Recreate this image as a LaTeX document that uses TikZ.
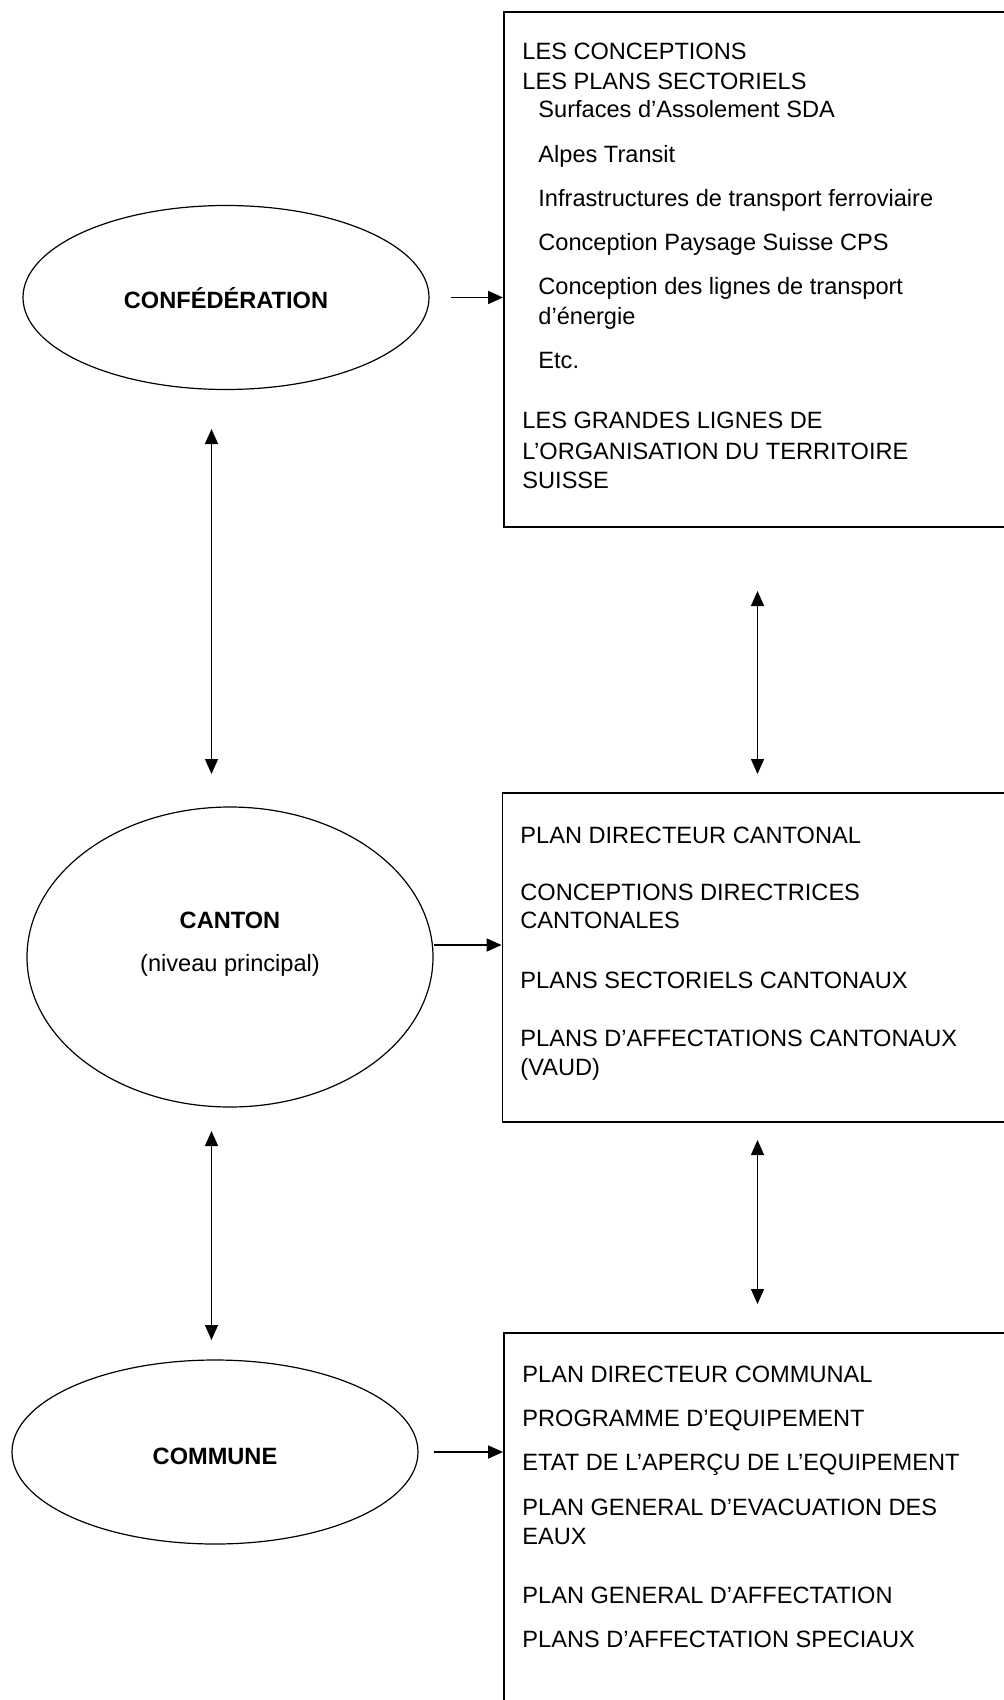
\documentclass[tikz,border=0pt]{standalone}
\usepackage{fontspec}
\setmainfont{Liberation Sans}
\usetikzlibrary{shapes.geometric, arrows.meta}

\begin{document}
\begin{tikzpicture}[%
        x = 0.5pt, y = -0.5pt,
        level/.style = {%
            draw, ellipse, line width = 0.6pt,
            inner sep = 0pt, minimum width = 203pt
        },
        frame/.style = {%
            draw, line width = 0.9pt, anchor = north west,
            inner sep = 0pt, minimum width = 270pt
        },
        entry/.style = {anchor = base west, inner sep = 0pt, font = \fontsize{11.8}{14}\selectfont},
        title/.style = {inner sep = 0pt, font = \bfseries\fontsize{11.8}{14}\selectfont},
        flow/.style = {-{Triangle[length = 7.5pt, width = 6.5pt]}, line width = 0.9pt},
        link/.style = {%
            {Triangle[length = 7.5pt, width = 6.5pt]}-{Triangle[length = 7.5pt, width = 6.5pt]},
            line width = 0.7pt
        }
    ]

        % Page size, the boxes run off the right and bottom edges.
        \useasboundingbox (0, 0) rectangle (1004, 1700);
        \clip (0, 0) rectangle (1004, 1700);

        % The three levels.
        \node[level, minimum height = 92pt] (conf) at (226, 297.5) {};
        \node[title] (conftitle) at (226, 298) {CONFÉDÉRATION};

        \node[level, minimum height = 150pt] (canton) at (230, 957) {};
        \node[title] (cantontitle) at (230, 920) {CANTON};
        \node[entry, anchor = center] (cantonsub) at (230, 965) {(niveau principal)};

        \node[level, minimum height = 92pt] (commune) at (215, 1452) {};
        \node[title] (communetitle) at (215, 1456) {COMMUNE};

        % The boxes with the instruments of each level.
        \node[frame, minimum height = 257.5pt] (fedbox) at (503, 11) {};
        \node[frame, minimum height = 164.5pt] (cantonbox) at (501.5, 792.3) {};
        \node[frame, minimum height = 220pt] (communebox) at (503, 1332) {};

        % Federal instruments, one line each (y / x / text).
        \foreach \y/\x/\t [count = \i] in {%
            60/522/LES CONCEPTIONS,
            90/522/LES PLANS SECTORIELS,
            118/538/Surfaces d’Assolement SDA,
            163/538/Alpes Transit,
            207/538/Infrastructures de transport ferroviaire,
            251/538/Conception Paysage Suisse CPS,
            295/538/Conception des lignes de transport,
            325/538/d’énergie,
            369/538/Etc.,
            429/522/LES GRANDES LIGNES DE,
            459/522/L’ORGANISATION DU TERRITOIRE,
            488/522/SUISSE}{%
            \node[entry] (fed\i) at (\x, \y) {\t};
        }

        % Cantonal instruments.
        \foreach \y/\t [count = \i] in {%
            843/PLAN DIRECTEUR CANTONAL,
            900/CONCEPTIONS DIRECTRICES,
            928/CANTONALES,
            988/PLANS SECTORIELS CANTONAUX,
            1046/PLANS D’AFFECTATIONS CANTONAUX,
            1075/(VAUD)}{%
            \node[entry] (cant\i) at (520, \y) {\t};
        }

        % Communal instruments.
        \foreach \y/\t [count = \i] in {%
            1382/PLAN DIRECTEUR COMMUNAL,
            1426/PROGRAMME D’EQUIPEMENT,
            1470/ETAT DE L’APERÇU DE L’EQUIPEMENT,
            1515/PLAN GENERAL D’EVACUATION DES,
            1544/EAUX,
            1603/PLAN GENERAL D’AFFECTATION,
            1647/PLANS D’AFFECTATION SPECIAUX}{%
            \node[entry] (comm\i) at (522, \y) {\t};
        }

        % Each level to its box.
        \draw[flow] ([xshift = 10.5pt]conf.east) -- (conf.east -| fedbox.west);
        \draw[flow] ([yshift = 6pt]canton.east) -- ([yshift = 6pt]canton.east -| cantonbox.west);
        \draw[flow] ([xshift = 7.5pt]commune.east) -- (commune.east -| communebox.west);

        % Ends of the two-way arrows between the levels.
        \coordinate (conflow) at (211.5, 429);
        \coordinate (cantonhigh) at (211.5, 774);
        \coordinate (cantonlow) at (211.5, 1131);
        \coordinate (communehigh) at (211.5, 1340);
        \coordinate (fedboxlow) at (757.5, 591);
        \coordinate (cantonboxhigh) at (757.5, 774);
        \coordinate (cantonboxlow) at (757.5, 1140);
        \coordinate (communeboxhigh) at (757.5, 1304);

        \draw[link] (conflow) -- (cantonhigh);
        \draw[link] (cantonlow) -- (communehigh);
        \draw[link] (fedboxlow) -- (cantonboxhigh);
        \draw[link] (cantonboxlow) -- (communeboxhigh);
    \end{tikzpicture}
\end{document}
